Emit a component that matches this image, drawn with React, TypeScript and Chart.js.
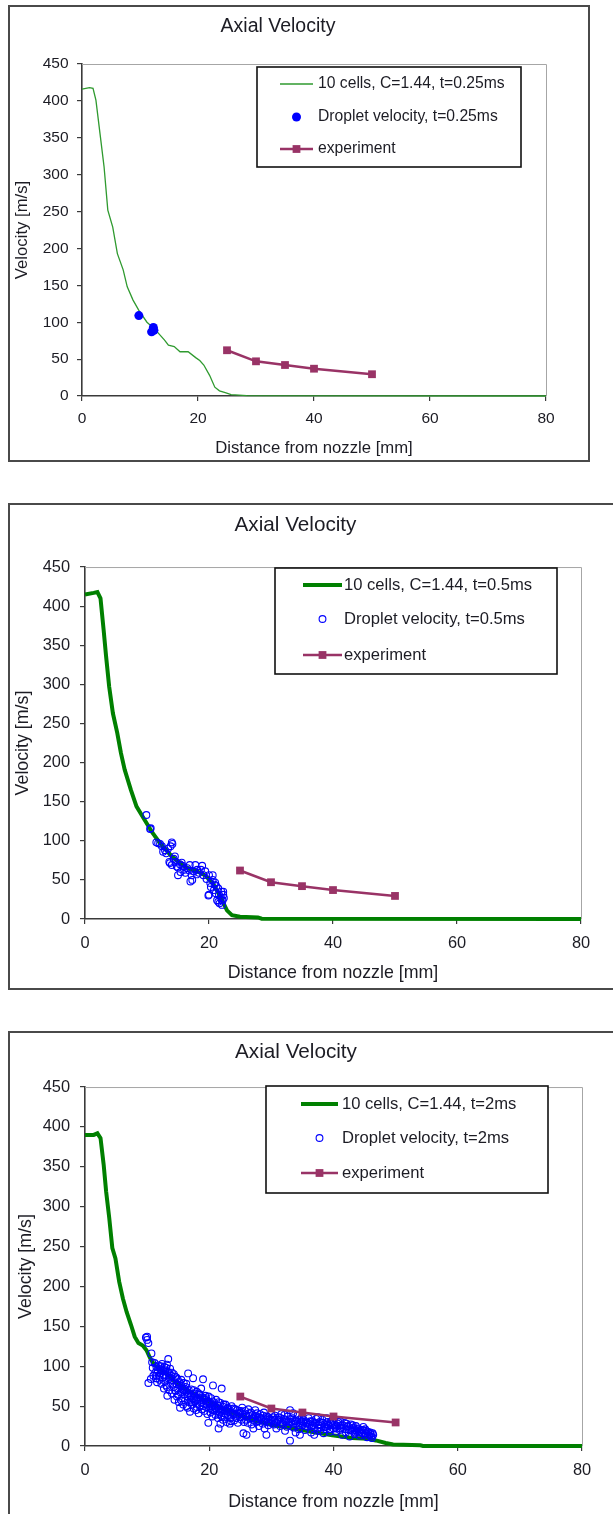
import React, { useEffect, useRef } from 'react';
import { Chart, registerables } from 'chart.js';

Chart.register(...registerables);

// ---------- Axis ticks ----------
const X_MIN = 0;
const X_MAX = 80;
const X_STEP = 20;
const Y_MIN = 0;
const Y_MAX = 450;
const Y_STEP = 50;

const TITLE = 'Axial Velocity';
const X_TITLE = 'Distance from nozzle [mm]';
const Y_TITLE = 'Velocity [m/s]';

// ---------- Experiment (same in all three panels) ----------
const EXP_X = [25, 30, 35, 40, 50];
const EXP_Y = [62, 47, 42, 37, 29.5];

// ---------- Panel 1: t = 0.25 ms ----------
const CFD1_X = [0, 1.3, 1.9, 2.4, 3.1, 3.8, 4.45, 5.3, 6.1, 7.1, 7.8, 8.8, 9.8, 11.2, 12.5, 14.2, 14.9, 15.9, 16.9, 18.3, 19.6, 20.3, 21.0, 22.0, 22.9, 23.7, 24.7, 25.7, 28.4, 80];
const CFD1_Y = [416, 418, 417, 401, 356, 311, 252, 229, 193, 171, 148, 130, 116, 100, 91, 76, 69, 67, 60, 60, 52, 48, 42, 28, 12, 7, 4.5, 2, 0.5, 0];
const DROP1: number[][] = [[9.8, 109], [12.3, 93], [12.0, 87], [12.4, 89]];

// ---------- Panel 2: t = 0.5 ms ----------
const CFD2_X = [0, 1.4, 2.0, 2.5, 3.0, 3.4, 3.9, 4.5, 5.2, 5.8, 6.4, 7.4, 8.3, 9.6, 10.9, 12.1, 14.0, 15.9, 16.9, 17.8, 19.1, 19.6, 20.6, 21.8, 22.9, 23.7, 25.0, 27.9, 28.5, 80];
const CFD2_Y = [415, 417, 418, 410, 370, 336, 297, 263, 238, 212, 191, 165, 144, 127, 110, 97, 80, 68, 64, 62, 57, 54, 46, 29, 11, 5, 3, 2, 0.4, 0];
const DROP2: number[][] = [
  [9.9, 133], [10.5, 115], [10.6, 116], [11.5, 98], [11.8, 97], [12.1, 96], [12.4, 93], [12.6, 86], [12.9, 88], [13.1, 84],
  [13.4, 90], [13.8, 93], [14.0, 98], [14.1, 96], [13.6, 73], [13.7, 71.5], [14.0, 69], [14.5, 80], [14.6, 73], [14.3, 77],
  [15.0, 56], [15.0, 66], [15.3, 70], [15.6, 72], [15.7, 68], [16.0, 63], [16.2, 59], [16.5, 65], [16.9, 69], [17.0, 48],
  [17.2, 56], [17.3, 50], [17.5, 61], [17.8, 69], [18.1, 63], [18.4, 59], [18.7, 63], [18.9, 68], [19.1, 56], [19.4, 61],
  [19.6, 51], [19.9, 30], [20.0, 31], [20.0, 56], [20.2, 46], [20.3, 41], [20.6, 50], [20.6, 56], [20.8, 37], [21.0, 46.5],
  [21.1, 33], [21.3, 24], [21.5, 39], [21.5, 22], [21.6, 31], [21.7, 20], [21.9, 28], [22.0, 35], [22.05, 24], [22.2, 24],
  [22.3, 31], [22.1, 18], [22.4, 27], [22.3, 35], [21.2, 42], [20.9, 44], [18.0, 57], [16.8, 62], [15.4, 60], [14.8, 67]
];

// ---------- Panel 3: t = 2 ms ----------
const CFD3_X = [0, 1.4, 2.0, 2.5, 3.0, 3.4, 3.9, 4.4, 4.9, 5.5, 6.1, 6.7, 7.4, 8.0, 8.6, 9.3, 9.9, 10.5, 11.2, 12.7, 14.6, 16.5, 19.0, 21.6, 24.1, 27.2, 30.4, 33.5, 36.7, 39.8, 43.0, 45.5, 46.8, 48.4, 49.6, 51.2, 54.0, 54.4, 80];
const CFD3_Y = [390, 390, 392, 386, 353, 319, 286, 248, 235, 206, 185, 168, 152, 137, 129, 126, 120, 110, 101, 93, 80, 70, 59, 49, 40.6, 32, 26, 22, 17.6, 13.4, 10, 9, 7, 3.8, 2, 1.7, 0.8, 0, 0];
const DROP3: number[][] = [
  [9.8, 136], [10.0, 133], [10.2, 129], [10.0, 137], [10.7, 116], [10.2, 79], [10.6, 84], [10.9, 98], [11.0, 88], [10.8, 105],
  [11.2, 104], [11.3, 92], [11.4, 85], [11.5, 99], [11.6, 80], [11.7, 95], [11.8, 101], [11.9, 88], [12.0, 83], [12.1, 97],
  [12.2, 91], [12.3, 78], [12.4, 103], [12.5, 86], [12.6, 94], [12.7, 72], [12.8, 99], [12.9, 81], [13.0, 89], [13.1, 76],
  [13.2, 102], [13.25, 63], [13.3, 93], [13.4, 109], [13.5, 84], [13.6, 70], [13.7, 97], [13.8, 79], [13.9, 88], [14.0, 66],
  [14.0, 92], [11.5, 88], [12.2, 100], [12.9, 95], [13.6, 86], [13.2, 74],
  [14.2, 82], [14.3, 74], [14.4, 58], [14.5, 87], [14.6, 69], [14.7, 78], [14.8, 62], [14.9, 84], [15.0, 72], [15.1, 55],
  [15.2, 80], [15.3, 48], [15.4, 67], [15.5, 76], [15.6, 60], [15.7, 71], [15.8, 52], [15.9, 79], [16.0, 65], [16.1, 57],
  [16.2, 74], [16.3, 68], [16.4, 50], [16.5, 62], [16.6, 91], [16.7, 70], [16.8, 55], [16.9, 43], [17.0, 64], [14.5, 70],
  [15.0, 64], [15.5, 57], [16.0, 72], [16.5, 48], [17.0, 58],
  [17.1, 71], [17.2, 52], [17.3, 60], [17.4, 85], [17.5, 47], [17.6, 66], [17.7, 56], [17.8, 62], [17.9, 45], [18.0, 68],
  [18.1, 53], [18.2, 59], [18.3, 41], [18.4, 64], [18.5, 50], [18.6, 57], [18.7, 72], [18.8, 46], [18.9, 61], [19.0, 83.6],
  [19.1, 54], [19.2, 44], [19.3, 58], [19.4, 63], [19.5, 49], [19.6, 52], [19.7, 40], [19.85, 29], [19.9, 56], [20.0, 47],
  [17.5, 58], [18.0, 49], [18.5, 64], [19.0, 50], [19.5, 60],
  [20.1, 53], [20.2, 42], [20.3, 60], [20.4, 50], [20.5, 37], [20.6, 76], [20.7, 55], [20.8, 45], [20.9, 48], [21.0, 39],
  [21.1, 58], [21.2, 44], [21.3, 51], [21.4, 35], [21.5, 22], [21.6, 47], [21.7, 42], [21.8, 54], [21.9, 38], [22.0, 72],
  [22.1, 45], [22.2, 33], [22.3, 49], [22.4, 41], [22.5, 36], [22.6, 52], [22.7, 44], [22.8, 30], [22.9, 47], [23.0, 39],
  [23.2, 43], [23.4, 35], [23.6, 50], [23.8, 41], [24.0, 32], [24.2, 46], [24.4, 38], [24.6, 29], [24.8, 44], [25.0, 36],
  [20.5, 45], [21.0, 50], [21.5, 40], [22.0, 38], [22.5, 45], [23.0, 48], [23.5, 31], [24.0, 40], [24.5, 45], [25.0, 42],
  [23.3, 28], [21.8, 28],
  [25.2, 33], [25.4, 40], [25.5, 16], [25.6, 30], [25.8, 44], [26.0, 37], [26.0, 14], [26.2, 29], [26.4, 41], [26.6, 34],
  [26.8, 27], [27.0, 39], [27.2, 32], [27.4, 45], [27.6, 30], [27.8, 36], [28.0, 25], [28.2, 40], [28.4, 33], [28.6, 28],
  [28.8, 42], [29.0, 31], [29.2, 14], [29.3, 37], [29.5, 26], [29.7, 34], [29.9, 29], [30.0, 40], [25.3, 48], [26.3, 46],
  [27.1, 22], [28.1, 36], [28.9, 22], [26.9, 35], [27.7, 41], [29.4, 30],
  [30.2, 33], [30.4, 27], [30.6, 38], [30.8, 22], [31.0, 31], [31.2, 36], [31.4, 25], [31.6, 40], [31.8, 29], [32.0, 34],
  [32.2, 19], [32.4, 31], [32.6, 37], [32.8, 26], [33.0, 45], [33.0, 6.7], [33.2, 30], [33.4, 35], [33.6, 23], [33.8, 32],
  [34.0, 28], [34.2, 38], [34.4, 21], [34.6, 14], [34.8, 31], [35.0, 26], [30.5, 32], [31.5, 30], [32.5, 24], [33.5, 41],
  [34.5, 33], [32.1, 39], [33.9, 17], [34.9, 36],
  [35.2, 33], [35.4, 20], [35.6, 29], [35.8, 24], [36.0, 35], [36.2, 27], [36.4, 17], [36.6, 31], [36.8, 22], [37.0, 28],
  [37.2, 34], [37.4, 19], [37.6, 26], [37.8, 30], [38.0, 23], [38.2, 33], [38.4, 16], [38.6, 27], [38.8, 21], [39.0, 30],
  [39.2, 25], [39.4, 18], [39.6, 28], [39.8, 32], [40.0, 22], [35.5, 30], [36.5, 25], [37.5, 36], [38.5, 24], [39.5, 21],
  [36.9, 14], [38.9, 35], [37.9, 19],
  [40.2, 27], [40.4, 18], [40.6, 25], [40.8, 30], [41.0, 20], [41.2, 26], [41.4, 14], [41.6, 23], [41.8, 29], [42.0, 17],
  [42.2, 24], [42.4, 21], [42.6, 12], [42.8, 27], [43.0, 19], [43.2, 23], [43.4, 15], [43.6, 25], [43.8, 18], [44.0, 22],
  [44.2, 13], [44.4, 20], [44.6, 16], [44.8, 24], [45.0, 14], [45.2, 19], [45.4, 11], [45.6, 17], [45.8, 13], [46.0, 15],
  [46.2, 10], [46.4, 14], [41.1, 31], [42.1, 28], [43.1, 26], [44.1, 17], [45.1, 21], [46.1, 12], [40.5, 22], [43.5, 20],
  [12.3, 96], [12.7, 88], [13.1, 98], [13.5, 92], [13.9, 83], [14.3, 90], [14.7, 86], [15.1, 77], [15.5, 83], [15.9, 70],
  [16.3, 78], [16.7, 66], [17.1, 62], [17.5, 70], [17.9, 58], [18.3, 66], [18.7, 54], [19.1, 60], [19.5, 56], [19.9, 62],
  [20.3, 48], [20.7, 52], [21.1, 47], [21.5, 55], [21.9, 44], [22.3, 52], [22.7, 40], [23.1, 46], [23.5, 42], [23.9, 47],
  [24.3, 35], [24.7, 40], [25.1, 44], [25.5, 37], [25.9, 33], [26.3, 38], [26.7, 42], [27.1, 35], [27.5, 38], [27.9, 31],
  [28.3, 35], [28.7, 38], [29.1, 33], [29.5, 36], [29.9, 33], [30.3, 36], [30.7, 29], [31.1, 33], [31.5, 35], [31.9, 27],
  [32.3, 33], [32.7, 30], [33.1, 34], [33.5, 28], [33.9, 31], [34.3, 26], [34.7, 29], [35.1, 31], [35.5, 25], [35.9, 29],
  [36.3, 31], [36.7, 26], [37.1, 29], [37.5, 23], [37.9, 27], [38.3, 29], [38.7, 24], [39.1, 27], [39.5, 30], [39.9, 26],
  [40.3, 24], [40.7, 28], [41.1, 22], [41.5, 26], [41.9, 21], [42.3, 25], [42.7, 20], [43.1, 22], [43.5, 17], [43.9, 21],
  [44.3, 18], [44.7, 20], [45.1, 16], [45.5, 18], [45.9, 17], [46.3, 16]
];

const CFD_LABELS = ['10 cells, C=1.44, t=0.25ms', '10 cells, C=1.44, t=0.5ms', '10 cells, C=1.44, t=2ms'];
const DROP_LABELS = ['Droplet velocity, t=0.25ms', 'Droplet velocity, t=0.5ms', 'Droplet velocity, t=2ms'];
const EXP_LABEL = 'experiment';

// ---------- styles ----------
const FONT = "'Liberation Sans', Arial, sans-serif";
const TEXT_COLOR = '#1c1c24';
const AXIS_COLOR = '#3a3a3a';
const GREEN_THIN = '#2f9a2f';
const GREEN = '#008000';
const BLUE = '#0000ff';
const PLUM = '#993366';

const toXY = (xs: number[], ys: number[]) => xs.map((x, i) => ({ x, y: ys[i] }));
const pairs = (p: number[][]) => p.map(([x, y]) => ({ x, y }));

type PanelCfg = {
  frame: { left: number; top: number; width: number; height: number };
  yAxisWidth: number;
  xAxisHeight: number;
  rightPad: number;
  title: { size: number; pt: number; pb: number };
  tickSize: number;
  xTickPad: number;
  yTickPad: number;
  axisTitleSize: number;
  yTitlePad: number;
  xTitlePad: number;
  legend: { box: { x: number; y: number; w: number; h: number }; rows: number[]; sx0: number; sx1: number; tx: number; size: number };
  cfd: { x: number; y: number }[];
  cfdColor: string;
  cfdWidth: number;
  cfdLabel: string;
  drop: { x: number; y: number }[];
  dropFilled: boolean;
  dropRadius: number;
  dropLabel: string;
};

const PANELS: PanelCfg[] = [
  {
    frame: { left: 8, top: 5, width: 582, height: 457 },
    yAxisWidth: 72, xAxisHeight: 64, rightPad: 42,
    title: { size: 19.5, pt: 8, pb: 25.6 },
    tickSize: 15.5, xTickPad: 8.7, yTickPad: 8.5,
    axisTitleSize: 16.7, yTitlePad: 2, xTitlePad: 1.5,
    legend: { box: { x: 247, y: 60, w: 264, h: 100 }, rows: [77, 110, 142], sx0: 270, sx1: 303, tx: 308, size: 15.7 },
    cfd: toXY(CFD1_X, CFD1_Y), cfdColor: GREEN_THIN, cfdWidth: 1.3, cfdLabel: CFD_LABELS[0],
    drop: pairs(DROP1), dropFilled: true, dropRadius: 4.5, dropLabel: DROP_LABELS[0]
  },
  {
    frame: { left: 8, top: 503, width: 618, height: 487 },
    yAxisWidth: 75, xAxisHeight: 69, rightPad: 43,
    title: { size: 20.7, pt: 7.6, pb: 29.6 },
    tickSize: 16.4, xTickPad: 9.2, yTickPad: 10,
    axisTitleSize: 17.8, yTitlePad: 2.3, xTitlePad: 4.3,
    legend: { box: { x: 265, y: 63, w: 282, h: 106 }, rows: [80, 114, 150], sx0: 293, sx1: 332, tx: 334, size: 16.6 },
    cfd: toXY(CFD2_X, CFD2_Y), cfdColor: GREEN, cfdWidth: 4, cfdLabel: CFD_LABELS[1],
    drop: pairs(DROP2), dropFilled: false, dropRadius: 3.4, dropLabel: DROP_LABELS[1]
  },
  {
    frame: { left: 8, top: 1031, width: 618, height: 487 },
    yAxisWidth: 75, xAxisHeight: 70, rightPad: 42,
    title: { size: 20.7, pt: 6.6, pb: 22.6 },
    tickSize: 16.4, xTickPad: 9.2, yTickPad: 10,
    axisTitleSize: 17.8, yTitlePad: 5, xTitlePad: 3.3,
    legend: { box: { x: 256, y: 53, w: 282, h: 107 }, rows: [71, 105, 140], sx0: 291, sx1: 328, tx: 332, size: 16.6 },
    cfd: toXY(CFD3_X, CFD3_Y), cfdColor: GREEN, cfdWidth: 4, cfdLabel: CFD_LABELS[2],
    drop: pairs(DROP3), dropFilled: false, dropRadius: 3.4, dropLabel: DROP_LABELS[2]
  }
];

// plot-area border (top and right edges, light grey like Excel)
const plotFramePlugin = {
  id: 'plotFrame',
  beforeDatasetsDraw(chart: any) {
    const { ctx, chartArea: a } = chart;
    ctx.save();
    ctx.strokeStyle = '#a6a6a6';
    ctx.lineWidth = 1;
    ctx.beginPath();
    ctx.moveTo(a.left, a.top + 0.5);
    ctx.lineTo(a.right + 0.5, a.top + 0.5);
    ctx.lineTo(a.right + 0.5, a.bottom);
    ctx.stroke();
    ctx.restore();
  }
};

// boxed legend inside the plot, like the Excel original
const legendBoxPlugin = {
  id: 'legendBox',
  afterDraw(chart: any, _args: any, opts: any) {
    if (!opts || !opts.box) return;
    const { ctx } = chart;
    const { box, rows, sx0, sx1, tx, size } = opts;
    ctx.save();
    ctx.fillStyle = '#ffffff';
    ctx.fillRect(box.x, box.y, box.w, box.h);
    ctx.strokeStyle = '#111111';
    ctx.lineWidth = 1.6;
    ctx.strokeRect(box.x, box.y, box.w, box.h);
    chart.data.datasets.forEach((ds: any, i: number) => {
      const y = rows[i];
      const mx = (sx0 + sx1) / 2;
      if (ds.showLine) {
        ctx.strokeStyle = ds.borderColor;
        ctx.lineWidth = ds.borderWidth;
        ctx.beginPath();
        ctx.moveTo(sx0, y);
        ctx.lineTo(sx1, y);
        ctx.stroke();
      }
      const r = ds.pointRadius || 0;
      if (r > 0) {
        if (ds.pointStyle === 'rect') {
          const s = Math.SQRT1_2 * r;
          ctx.fillStyle = ds.pointBackgroundColor;
          ctx.fillRect(mx - s, y - s, 2 * s, 2 * s);
        } else {
          ctx.beginPath();
          ctx.arc(mx, y, r, 0, Math.PI * 2);
          if (ds.pointBackgroundColor && ds.pointBackgroundColor !== 'rgba(0,0,0,0)') {
            ctx.fillStyle = ds.pointBackgroundColor;
            ctx.fill();
          }
          if (ds.pointBorderWidth > 0) {
            ctx.strokeStyle = ds.pointBorderColor;
            ctx.lineWidth = ds.pointBorderWidth;
            ctx.stroke();
          }
        }
      }
      ctx.fillStyle = TEXT_COLOR;
      ctx.font = `${size}px ${FONT}`;
      ctx.textBaseline = 'middle';
      ctx.textAlign = 'left';
      ctx.fillText(ds.label, tx, y);
    });
    ctx.restore();
  }
};

function Panel({ cfg }: { cfg: PanelCfg }) {
  const ref = useRef<HTMLCanvasElement | null>(null);
  const w = cfg.frame.width - 4;
  const h = cfg.frame.height - 4;

  useEffect(() => {
    if (!ref.current) return;
    const chart = new Chart(ref.current, {
      type: 'scatter',
      data: {
        datasets: [
          {
            label: cfg.cfdLabel,
            data: cfg.cfd,
            showLine: true,
            borderColor: cfg.cfdColor,
            borderWidth: cfg.cfdWidth,
            pointRadius: 0,
            pointHoverRadius: 0,
            tension: 0,
            clip: false,
            order: 3
          } as any,
          {
            label: cfg.dropLabel,
            data: cfg.drop,
            showLine: false,
            pointStyle: 'circle',
            pointRadius: cfg.dropRadius,
            pointBackgroundColor: cfg.dropFilled ? BLUE : 'rgba(0,0,0,0)',
            pointBorderColor: BLUE,
            pointBorderWidth: cfg.dropFilled ? 0 : 1.1,
            clip: false,
            order: 2
          } as any,
          {
            label: EXP_LABEL,
            data: toXY(EXP_X, EXP_Y),
            showLine: true,
            borderColor: PLUM,
            borderWidth: 2.5,
            pointStyle: 'rect',
            pointRadius: 5.5,
            pointBackgroundColor: PLUM,
            pointBorderColor: PLUM,
            pointBorderWidth: 0,
            tension: 0,
            clip: false,
            order: 1
          } as any
        ]
      },
      options: {
        responsive: false,
        animation: false,
        devicePixelRatio: 1,
        events: [],
        layout: { padding: { top: 0, left: 0, bottom: 0, right: cfg.rightPad } },
        plugins: {
          legend: { display: false },
          tooltip: { enabled: false },
          title: {
            display: true,
            text: TITLE,
            color: TEXT_COLOR,
            font: { family: FONT, size: cfg.title.size, weight: 'normal', lineHeight: 1.2 },
            padding: { top: cfg.title.pt, bottom: cfg.title.pb }
          },
          legendBox: cfg.legend
        } as any,
        scales: {
          x: {
            type: 'linear',
            min: X_MIN,
            max: X_MAX,
            afterFit: (s: any) => { s.height = cfg.xAxisHeight; },
            ticks: {
              stepSize: X_STEP,
              color: TEXT_COLOR,
              padding: cfg.xTickPad,
              maxRotation: 0,
              font: { family: FONT, size: cfg.tickSize, lineHeight: 1.2 }
            },
            grid: { display: true, drawOnChartArea: false, drawTicks: true, tickLength: 5, color: AXIS_COLOR, lineWidth: 1.2 },
            border: { display: true, color: AXIS_COLOR, width: 1.6 },
            title: {
              display: true,
              text: X_TITLE,
              color: TEXT_COLOR,
              font: { family: FONT, size: cfg.axisTitleSize, lineHeight: 1.2 },
              padding: { top: 0, bottom: cfg.xTitlePad }
            }
          },
          y: {
            type: 'linear',
            min: Y_MIN,
            max: Y_MAX,
            afterFit: (s: any) => { s.width = cfg.yAxisWidth; },
            ticks: {
              stepSize: Y_STEP,
              color: TEXT_COLOR,
              padding: cfg.yTickPad,
              font: { family: FONT, size: cfg.tickSize, lineHeight: 1.2 }
            },
            grid: { display: true, drawOnChartArea: false, drawTicks: true, tickLength: 5, color: AXIS_COLOR, lineWidth: 1.2 },
            border: { display: true, color: AXIS_COLOR, width: 1.6 },
            title: {
              display: true,
              text: Y_TITLE,
              color: TEXT_COLOR,
              font: { family: FONT, size: cfg.axisTitleSize, lineHeight: 1.2 },
              padding: { top: cfg.yTitlePad, bottom: 0 }
            }
          }
        }
      } as any,
      plugins: [plotFramePlugin, legendBoxPlugin]
    });
    return () => chart.destroy();
  }, [cfg]);

  return (
    <div
      style={{
        position: 'absolute',
        left: cfg.frame.left,
        top: cfg.frame.top,
        width: cfg.frame.width,
        height: cfg.frame.height,
        boxSizing: 'border-box',
        border: '2px solid #4a4a4a',
        background: '#ffffff'
      }}
    >
      <canvas ref={ref} width={w} height={h} style={{ position: 'absolute', left: 0, top: 0, width: w, height: h, display: 'block' }} />
    </div>
  );
}

export default function App() {
  return (
    <div style={{ position: 'absolute', left: 0, top: 0, width: 613, height: 1514, overflow: 'hidden', background: '#ffffff' }}>
      {PANELS.map((p, i) => (
        <Panel key={i} cfg={p} />
      ))}
    </div>
  );
}
